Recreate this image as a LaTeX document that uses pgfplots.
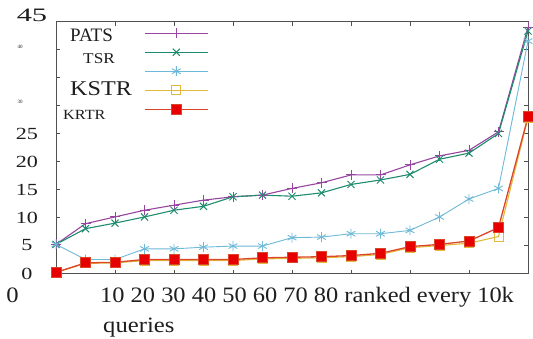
\documentclass[border=0pt]{standalone}
\usepackage{fontspec}
\setmainfont{Liberation Serif}
\usepackage{pgfplots}
\pgfplotsset{compat=1.18}
\definecolor{cpats}{RGB}{150,70,160}
\definecolor{ctsr}{RGB}{30,140,110}
\definecolor{ccyan}{RGB}{110,185,215}
\definecolor{ckstr}{RGB}{225,185,60}
\definecolor{ckrtr}{RGB}{220,70,40}
\definecolor{ckrtrfill}{RGB}{230,0,0}
\definecolor{axgray}{RGB}{80,80,80}
\definecolor{txt}{RGB}{30,30,30}
\begin{document}
\begin{tikzpicture}[x=1pt,y=1pt]
\begin{axis}[
  at={(56pt,64.5pt)}, anchor=south west,
  scale only axis, width=472pt, height=252pt,
  xmin=0, xmax=16, ymin=0, ymax=45,
  xtick={2,4,...,14}, xticklabels={},
  ytick={0,5,...,45}, yticklabels={0,5,10,15,20,25,{},{},{},{}},
  axis line style={draw=axgray, line width=1pt},
  major tick style={draw=axgray, line width=0.8pt},
  major tick length=4pt,
  yticklabel style={font=\fontsize{17}{17}\selectfont, text=txt, anchor=center, xshift=-29pt, xscale=1.3},
  clip=false,
  legend style={at={(axis description cs:0.1864,0.992)}, anchor=north west, draw=none, fill=none,
    inner sep=0pt, row sep=0pt, column sep=0pt, nodes={inner sep=0pt}, font=\fontsize{5}{5}\selectfont},
  legend image code/.code={\path[draw=none,fill=none] (0pt,-9.5pt) rectangle (63pt,9.5pt);\draw[mark repeat=2,mark phase=2] plot coordinates {(0pt,0pt) (31.5pt,0pt) (63pt,0pt)};},
]
\addplot[cpats, line width=1.1pt, mark=+, mark size=5pt, mark options={line width=1pt}] coordinates {
(0,5.2) (1,8.9) (2,10.1) (3,11.3) (4,12.2) (5,13.1) (6,13.7) (7,14.0) (8,15.2) (9,16.2) (10,17.6) (11,17.6) (12,19.4) (13,21.0) (14,22.0) (15,25.3) (16,44.0)};
\addlegendentry{\mbox{}}
\addplot[ctsr, line width=1.1pt, mark=x, mark size=5pt, mark options={line width=1pt}] coordinates {
(0,5.2) (1,8.0) (2,9.0) (3,10.1) (4,11.3) (5,12.0) (6,13.7) (7,14.0) (8,13.8) (9,14.4) (10,15.9) (11,16.7) (12,17.7) (13,20.4) (14,21.5) (15,25.0) (16,43.3)};
\addlegendentry{\mbox{}}
\addplot[ccyan, line width=0.9pt, mark=asterisk, mark size=5pt, mark options={line width=0.9pt}] coordinates {
(0,5.2) (1,2.5) (2,2.5) (3,4.4) (4,4.4) (5,4.7) (6,4.9) (7,4.9) (8,6.4) (9,6.5) (10,7.1) (11,7.1) (12,7.7) (13,10.1) (14,13.3) (15,15.2) (16,41.5)};
\addlegendentry{\mbox{}}
\addplot[ckstr, line width=1.1pt, mark=square, mark size=4.5pt, mark options={line width=0.9pt}] coordinates {
(0,0.2) (1,1.8) (2,1.9) (3,2.3) (4,2.3) (5,2.3) (6,2.3) (7,2.6) (8,2.7) (9,2.8) (10,3.0) (11,3.4) (12,4.6) (13,5.0) (14,5.4) (15,6.6) (16,27.8)};
\addlegendentry{\mbox{}}
\addplot[ckrtr, line width=1.3pt, mark=square*, mark size=5pt, mark options={fill=ckrtrfill, draw=ckrtr, line width=0.8pt}] coordinates {
(0,0.2) (1,1.9) (2,2.0) (3,2.5) (4,2.5) (5,2.5) (6,2.5) (7,2.8) (8,2.9) (9,3.0) (10,3.2) (11,3.6) (12,4.8) (13,5.2) (14,5.8) (15,8.2) (16,28.0)};
\addlegendentry{\mbox{}}
\end{axis}
% extra y labels
\node[text=txt, font=\fontsize{19}{19}\selectfont, xscale=1.6] at (32,323) {45};
\node[text=txt, font=\fontsize{5}{5}\selectfont] at (20,291) {40};
\node[text=txt, font=\fontsize{5}{5}\selectfont] at (20,236) {30};
% legend labels
\node[text=txt, font=\fontsize{19}{19}\selectfont, anchor=base west, inner sep=0pt] at (70,296.3) {PATS};
\node[text=txt, font=\fontsize{15}{15}\selectfont, anchor=base west, inner sep=0pt, xscale=1.15] at (83,274.7) {TSR};
\node[text=txt, font=\fontsize{21}{21}\selectfont, anchor=base west, inner sep=0pt, xscale=1.15] at (70,242) {KSTR};
\node[text=txt, font=\fontsize{14}{14}\selectfont, anchor=base west, inner sep=0pt, xscale=1.16] at (63,218.7) {KRTR};
% x labels
\node[text=txt, font=\fontsize{22}{22}\selectfont, anchor=base, inner sep=0pt, xscale=1.12] at (12.5,36) {0};
\node[text=txt, font=\fontsize{22}{22}\selectfont, anchor=base west, inner sep=0pt, xscale=1.11] at (100,36) {10 20 30 40 50 60 70 80 ranked every 10k};
\node[text=txt, font=\fontsize{22}{22}\selectfont, anchor=base west, inner sep=0pt, xscale=1.12] at (103,5.3) {queries};
\pgfresetboundingbox
\path[use as bounding box] (0,0) rectangle (533,338);
\end{tikzpicture}
\end{document}
